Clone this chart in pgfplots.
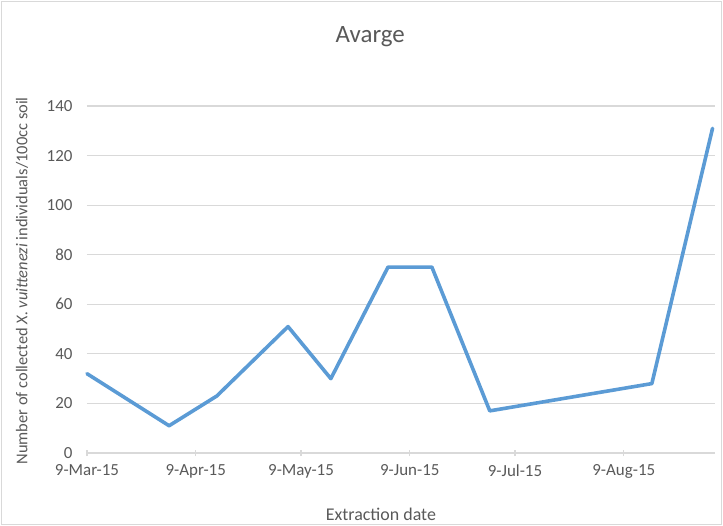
\documentclass[border=0pt]{standalone}
\usepackage{fontspec}
\setmainfont{Carlito}
\usepackage{pgfplots}
\pgfplotsset{compat=1.18}

\definecolor{lineblue}{HTML}{5B9BD5}
\definecolor{gridgray}{HTML}{D9D9D9}
\definecolor{textgray}{HTML}{595959}

\begin{document}
\begin{tikzpicture}
\begin{axis}[
    scale only axis,
    width=628bp, height=347bp,
    xmin=0, xmax=179,
    ymin=0, ymax=140,
    axis lines*=left,
    y axis line style={draw=none},
    x axis line style={draw=gridgray, line width=1.2bp},
    xtick={0,31,61,92,122,153},
    xticklabels={9-Mar-15,9-Apr-15,9-May-15,9-Jun-15,9-Jul-15,9-Aug-15},
    ytick={0,20,...,140},
    ymajorgrids,
    grid style={draw=gridgray, line width=1.2bp},
    ytick style={draw=none},
    xtick style={draw=gridgray, line width=1.2bp},
    tick align=center,
    major tick length=6bp,
    tick label style={font=\fontsize{17}{20}\selectfont, text=textgray},
    /pgf/number format/assume math mode=true,
    yticklabel style={xshift=-8bp},
    xticklabel style={yshift=-5bp},
    title={Avarge},
    title style={font=\fontsize{25}{30}\selectfont, text=textgray,
        at={(axis description cs:0.451,1.182)}, anchor=center},
    xlabel={Extraction date},
    xlabel style={font=\fontsize{18}{22}\selectfont, text=textgray,
        at={(axis description cs:0.468,-0.176)}, anchor=center},
    ylabel={Number of collected \textit{X. vuittenezi} individuals/100cc soil},
    ylabel style={font=\fontsize{16.5}{20}\selectfont, text=textgray,
        at={(axis description cs:-0.1035,0.496)}, anchor=center},
    clip=false,
]
\addplot[color=lineblue, line width=3.6bp, line join=round, line cap=round] coordinates {
    (0,32) (23.4,11) (37,23) (57.3,51) (69.5,30) (85.8,75) (98.3,75) (114.8,17) (161,28) (178.3,131)
};
\coordinate (sw) at (rel axis cs:0,0);
\coordinate (ne) at (rel axis cs:1,1);
\end{axis}
\path ([shift={(-87bp,-73bp)}]sw) rectangle ([shift={(8bp,106bp)}]ne);
\draw[gridgray, line width=1bp] ([shift={(-85bp,-71bp)}]sw) rectangle ([shift={(6bp,104bp)}]ne);
\end{tikzpicture}
\end{document}
